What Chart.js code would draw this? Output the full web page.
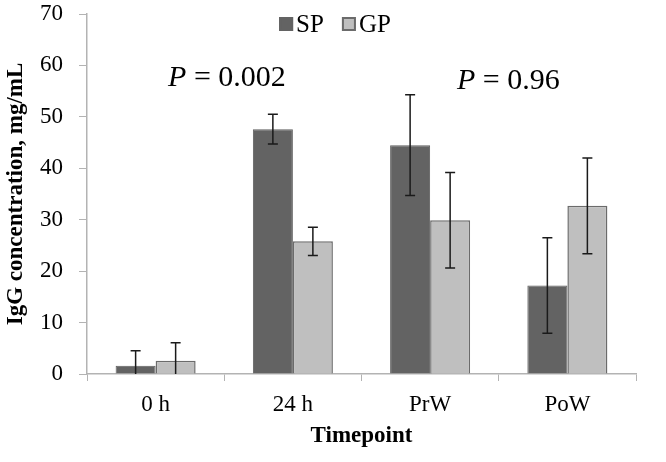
<!DOCTYPE html>
<html>
<head>
<meta charset="utf-8">
<script src="https://cdn.jsdelivr.net/npm/chart.js@4.4.0/dist/chart.umd.min.js"></script>
<style>
  html, body { margin: 0; padding: 0; background: #fff; }
  #wrap { width: 666px; height: 462px; }
</style>
</head>
<body>
<div id="wrap"><canvas id="iggChart"></canvas></div>
<script>
const timepoints = ['0 h', '24 h', 'PrW', 'PoW'];
const spValues = [1.6, 47.6, 44.5, 17.2];
const gpValues = [2.6, 25.8, 29.9, 32.7];
const spErrors = [2.9, 2.9, 9.8, 9.3];
const gpErrors = [3.5, 2.75, 9.3, 9.3];
const yTicks = [0, 10, 20, 30, 40, 50, 60, 70];

// p-value notes, placed by category index and value
const pNotes = [
    { x: 0.52, y: 57.6, text: ' = 0.002' },
    { x: 2.57, y: 57.0, text: ' = 0.96' }
];

const serif = 'Liberation Serif, Times New Roman, serif';

const errorBars = {
    id: 'errorBars',
    afterDatasetsDraw(chart) {
        const ctx = chart.ctx;
        const yScale = chart.scales.y;
        const errs = [spErrors, gpErrors];
        ctx.save();
        ctx.strokeStyle = '#1a1a1a';
        ctx.lineWidth = 1.5;
        chart.data.datasets.forEach((ds, di) => {
            const meta = chart.getDatasetMeta(di);
            meta.data.forEach((bar, i) => {
                const v = ds.data[i];
                const e = errs[di][i];
                const hi = yScale.getPixelForValue(v + e);
                const low = v - e;
                const lo = yScale.getPixelForValue(Math.max(low, 0));
                ctx.beginPath();
                ctx.moveTo(bar.x, hi);
                ctx.lineTo(bar.x, lo);
                ctx.moveTo(bar.x - 5, hi);
                ctx.lineTo(bar.x + 5, hi);
                if (low > 0) {
                    ctx.moveTo(bar.x - 5, lo);
                    ctx.lineTo(bar.x + 5, lo);
                }
                ctx.stroke();
            });
        });
        ctx.restore();
    }
};

const notes = {
    id: 'notes',
    afterDraw(chart) {
        const ctx = chart.ctx;
        const xs = chart.scales.x, ys = chart.scales.y;
        ctx.save();
        ctx.fillStyle = '#000';
        ctx.textBaseline = 'middle';
        pNotes.forEach(n => {
            const cx = xs.getPixelForValue(n.x);
            const cy = ys.getPixelForValue(n.y);
            ctx.font = 'italic 30px ' + serif;
            const wp = ctx.measureText('P').width;
            ctx.font = '30px ' + serif;
            const wt = ctx.measureText(n.text).width;
            const x0 = cx - (wp + wt) / 2;
            ctx.font = 'italic 30px ' + serif;
            ctx.fillText('P', x0, cy);
            ctx.font = '30px ' + serif;
            ctx.fillText(n.text, x0 + wp, cy);
        });

        // legend
        const items = [
            { label: 'SP', fill: '#636363', stroke: '#636363' },
            { label: 'GP', fill: '#bfbfbf', stroke: '#6b6b6b' }
        ];
        ctx.font = '25px ' + serif;
        const box = 14, gap = 3, between = 18;
        let total = 0;
        items.forEach((it, i) => {
            total += box + gap + ctx.measureText(it.label).width + (i ? 0 : between);
        });
        let x = chart.width / 2 - total / 2 + 2;
        const top = 17;
        items.forEach(it => {
            ctx.fillStyle = it.fill;
            ctx.fillRect(x, top, box, box);
            ctx.strokeStyle = it.stroke;
            ctx.lineWidth = 2;
            ctx.strokeRect(x + 1, top + 1, box - 2, box - 2);
            ctx.fillStyle = '#000';
            ctx.textBaseline = 'alphabetic';
            ctx.fillText(it.label, x + box + gap, top + box + 1);
            x += box + gap + ctx.measureText(it.label).width + between;
        });
        ctx.restore();
    }
};

new Chart(document.getElementById('iggChart').getContext('2d'), {
    type: 'bar',
    data: {
        labels: timepoints,
        datasets: [
            {
                label: 'SP',
                data: spValues,
                backgroundColor: '#636363',
                borderColor: '#5e5e5e',
                borderWidth: 1
            },
            {
                label: 'GP',
                data: gpValues,
                backgroundColor: '#bfbfbf',
                borderColor: '#6b6b6b',
                borderWidth: 1.5
            }
        ]
    },
    options: {
        responsive: true,
        maintainAspectRatio: false,
        animation: false,
        layout: { padding: { top: 0, right: 30, left: 0, bottom: 0 } },
        datasets: {
            bar: { categoryPercentage: 0.583, barPercentage: 1.0 }
        },
        plugins: {
            legend: { display: false },
            tooltip: { enabled: false }
        },
        scales: {
            x: {
                grid: {
                    offset: true,
                    drawOnChartArea: false,
                    color: '#b3b3b3',
                    tickLength: 7
                },
                border: { color: '#b3b3b3', width: 1.5 },
                ticks: {
                    color: '#000',
                    padding: 10,
                    font: { family: serif, size: 23 }
                },
                title: {
                    display: true,
                    text: 'Timepoint',
                    color: '#000',
                    padding: { top: 0, bottom: 12 },
                    font: { family: serif, size: 23, weight: 'bold' }
                },
                afterFit(scale) { scale.height = 88; }
            },
            y: {
                min: 0,
                max: 70,
                afterBuildTicks(scale) {
                    scale.ticks = yTicks.map(v => ({ value: v }));
                },
                grid: {
                    drawOnChartArea: false,
                    color: '#b3b3b3',
                    tickLength: 8
                },
                border: { color: '#b3b3b3', width: 1.5 },
                ticks: {
                    color: '#000',
                    padding: 16,
                    font: { family: serif, size: 23 }
                },
                title: {
                    display: true,
                    text: 'IgG concentration, mg/mL',
                    color: '#000',
                    padding: { top: 2, bottom: 0 },
                    font: { family: serif, size: 23, weight: 'bold' }
                },
                afterFit(scale) {
                    scale.width = 87;
                    scale.paddingTop = 14;
                    scale.paddingBottom = 0;
                }
            }
        }
    },
    plugins: [errorBars, notes]
});
</script>
</body>
</html>
